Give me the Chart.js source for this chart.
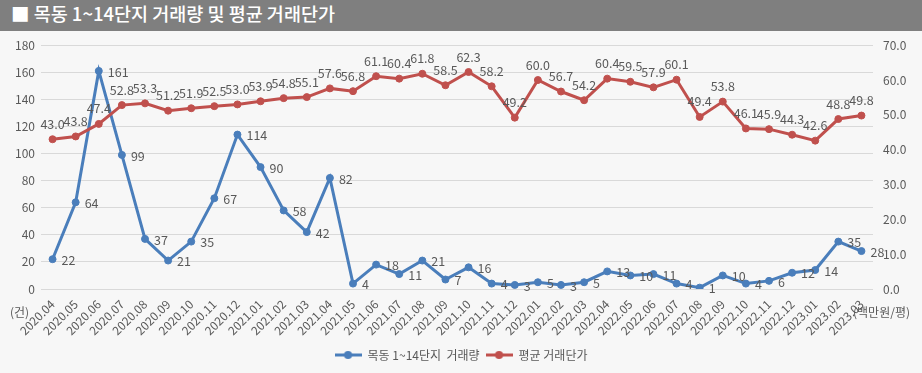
<!DOCTYPE html>
<html>
<head>
<meta charset="utf-8">
<script src="https://cdn.jsdelivr.net/npm/chart.js@4.4.1/dist/chart.umd.min.js"></script>
<style>
  html, body { margin: 0; padding: 0; background: #f7f7f7; overflow: hidden; }
  #title {
    position: relative; z-index: 1;
    height: 31px; line-height: 31px; background: #7f7f7f; color: #fff;
    font: 500 18.5px "Noto Sans CJK KR", sans-serif; padding-left: 11px;
  }
  #wrap { position: relative; width: 922px; height: 345px; margin-top: -3px; }
</style>
</head>
<body>
<div id="title">■ 목동 1~14단지 거래량 및 평균 거래단가</div>
<div id="wrap"><canvas id="chart"></canvas></div>
<script>
const months = [
  "2020.04","2020.05","2020.06","2020.07","2020.08","2020.09","2020.10","2020.11","2020.12",
  "2021.01","2021.02","2021.03","2021.04","2021.05","2021.06","2021.07","2021.08","2021.09",
  "2021.10","2021.11","2021.12","2022.01","2022.02","2022.03","2022.04","2022.05","2022.06",
  "2022.07","2022.08","2022.09","2022.10","2022.11","2022.12","2023.01","2023.02","2023.03"
];
// 거래량 (건)
const volume = [22, 64, 161, 99, 37, 21, 35, 67, 114, 90, 58, 42, 82, 4, 18, 11, 21, 7,
                16, 4, 3, 5, 3, 5, 13, 10, 11, 4, 1, 10, 4, 6, 12, 14, 35, 28];
// 평균 거래단가 (백만원/평)
const price = [43.0, 43.8, 47.4, 52.8, 53.3, 51.2, 51.9, 52.5, 53.0, 53.9, 54.8, 55.1,
               57.6, 56.8, 61.1, 60.4, 61.8, 58.5, 62.3, 58.2, 49.2, 60.0, 56.7, 54.2,
               60.4, 59.5, 57.9, 60.1, 49.4, 53.8, 46.1, 45.9, 44.3, 42.6, 48.8, 49.8];

const BLUE = "#4a7ebb";
const RED = "#c0504d";
const TEXT = "#595959";
const FONT = '"Noto Sans CJK KR", sans-serif';

// legend marker: short line with a dot
function marker(color) {
  const c = document.createElement("canvas");
  c.width = 27; c.height = 10;
  const g = c.getContext("2d");
  g.strokeStyle = color; g.lineWidth = 3;
  g.beginPath(); g.moveTo(0, 5); g.lineTo(27, 5); g.stroke();
  g.fillStyle = color;
  g.beginPath(); g.arc(13.5, 5, 4, 0, Math.PI * 2); g.fill();
  return c;
}

const valueLabels = {
  id: "valueLabels",
  afterDatasetsDraw(chart) {
    const ctx = chart.ctx;
    ctx.save();
    ctx.font = "12.5px " + FONT;
    ctx.fillStyle = TEXT;
    chart.data.datasets.forEach((ds, i) => {
      chart.getDatasetMeta(i).data.forEach((pt, j) => {
        const v = ds.data[j];
        if (i === 0) {
          ctx.textAlign = "left"; ctx.textBaseline = "middle";
          ctx.fillText(String(v), pt.x + 9, pt.y + 1);
        } else {
          ctx.textAlign = "center"; ctx.textBaseline = "bottom";
          ctx.fillText(v.toFixed(1), pt.x, pt.y - 9);
        }
      });
    });
    ctx.restore();
  }
};

const unitLabels = {
  id: "unitLabels",
  afterDraw(chart) {
    const ctx = chart.ctx;
    const a = chart.chartArea;
    ctx.save();
    ctx.font = "12px " + FONT;
    ctx.fillStyle = TEXT;
    ctx.textBaseline = "middle";
    ctx.textAlign = "left";
    ctx.fillText("(건)", 10, a.bottom + 23);
    ctx.fillText("(백만원/평)", 853, a.bottom + 23);
    ctx.restore();
  }
};

new Chart(document.getElementById("chart"), {
  type: "line",
  data: {
    labels: months,
    datasets: [
      {
        label: "목동 1~14단지  거래량",
        data: volume,
        yAxisID: "y",
        order: 1,
        borderColor: BLUE,
        backgroundColor: BLUE,
        borderWidth: 3,
        pointRadius: 3.5,
        pointBorderWidth: 1,
        pointHoverRadius: 3.5,
        tension: 0
      },
      {
        label: "평균 거래단가",
        data: price,
        yAxisID: "y2",
        order: 0,
        borderColor: RED,
        backgroundColor: RED,
        borderWidth: 3,
        pointRadius: 3.5,
        pointBorderWidth: 1,
        pointHoverRadius: 3.5,
        tension: 0
      }
    ]
  },
  options: {
    responsive: true,
    maintainAspectRatio: false,
    animation: false,
    layout: { padding: { top: 7, bottom: 2, left: 0, right: 0 } },
    plugins: {
      legend: {
        position: "bottom",
        labels: {
          color: TEXT,
          font: { family: FONT, size: 12 },
          usePointStyle: true,
          pointStyleWidth: 27,
          padding: 6,
          generateLabels(chart) {
            return chart.data.datasets.map((ds, i) => ({
              text: ds.label,
              pointStyle: marker(ds.borderColor),
              fillStyle: ds.borderColor,
              strokeStyle: ds.borderColor,
              lineWidth: 0,
              fontColor: TEXT,
              hidden: false,
              datasetIndex: i
            }));
          }
        }
      },
      tooltip: { enabled: false }
    },
    scales: {
      x: {
        offset: true,
        grid: { display: false },
        border: { display: false },
        ticks: {
          color: TEXT,
          font: { family: FONT, size: 12 },
          maxRotation: 45,
          minRotation: 45,
          autoSkip: false,
          padding: 0
        },
        afterFit(s) { s.height = 54; }
      },
      y: {
        position: "left",
        min: 0,
        max: 180,
        ticks: { stepSize: 20, color: TEXT, font: { family: FONT, size: 12 }, padding: 6 },
        grid: { color: "#d9d9d9", drawTicks: false },
        border: { display: false },
        afterFit(s) { s.width = 41; }
      },
      y2: {
        position: "right",
        min: 0,
        max: 70,
        ticks: {
          stepSize: 10, color: TEXT, font: { family: FONT, size: 12 }, padding: 10,
          callback: v => v.toFixed(1)
        },
        grid: { drawOnChartArea: false, drawTicks: false },
        border: { display: false },
        afterFit(s) { s.width = 49; }
      }
    }
  },
  plugins: [valueLabels, unitLabels]
});
</script>
</body>
</html>
